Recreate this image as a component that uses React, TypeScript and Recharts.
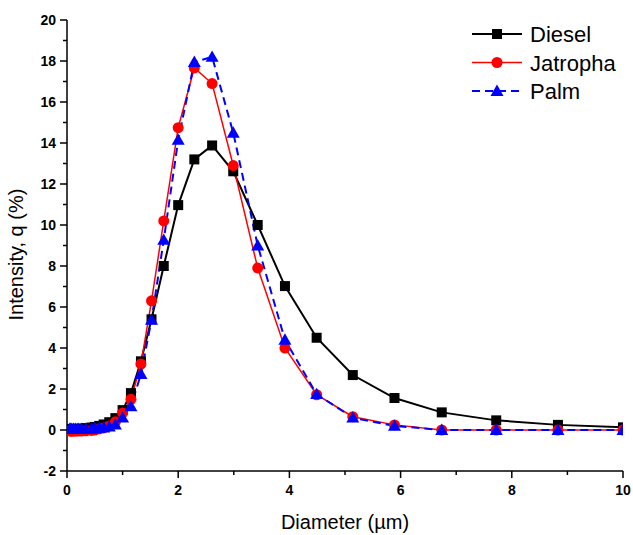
import React from "react";
import { LineChart, Line, XAxis, YAxis, Legend } from "recharts";

const diameters = [0.05, 0.066, 0.087, 0.115, 0.15, 0.2, 0.26, 0.34, 0.44, 0.5, 0.58, 0.66, 0.76, 0.87, 1.0, 1.15, 1.33, 1.52, 1.74, 2.0, 2.29, 2.61, 2.99, 3.43, 3.92, 4.49, 5.14, 5.89, 6.74, 7.72, 8.83, 10.0];
const diesel = [0.05, 0.05, 0.05, 0.05, 0.05, 0.06, 0.07, 0.09, 0.12, 0.15, 0.2, 0.27, 0.38, 0.58, 0.97, 1.8, 3.35, 5.4, 8.0, 10.97, 13.2, 13.88, 12.62, 10.0, 7.02, 4.5, 2.68, 1.56, 0.86, 0.47, 0.25, 0.13];
const jatropha = [-0.05, -0.05, -0.05, -0.05, -0.05, -0.05, -0.05, -0.04, -0.02, 0.0, 0.05, 0.1, 0.2, 0.4, 0.83, 1.5, 3.22, 6.3, 10.2, 14.75, 17.66, 16.9, 12.9, 7.9, 4.0, 1.72, 0.65, 0.25, 0.0, 0.0, 0.0, 0.0];
const palm = [0.05, 0.05, 0.05, 0.05, 0.05, 0.05, 0.05, 0.05, 0.06, 0.08, 0.1, 0.12, 0.16, 0.26, 0.6, 1.15, 2.73, 5.37, 9.27, 14.15, 17.95, 18.2, 14.5, 9.0, 4.4, 1.75, 0.6, 0.2, 0.0, 0.0, 0.0, 0.0];

const xTicks = [0, 1, 2, 3, 4, 5, 6, 7, 8, 9, 10];
const yTicks = [-2, -1, 0, 1, 2, 3, 4, 5, 6, 7, 8, 9, 10, 11, 12, 13, 14, 15, 16, 17, 18, 19, 20];

const seriesNames = ["Diesel", "Jatropha", "Palm"];
const seriesColors = ["#000000", "#ff0000", "#0000ff"];

const data = diameters.map((d, i) => ({ d, diesel: diesel[i], jatropha: jatropha[i], palm: palm[i] }));

const FONT = "Arial, 'Liberation Sans', sans-serif";

const Square = (props: any) => {
  const { cx, cy, fill } = props;
  if (cx == null || cy == null) return null;
  const size = 10;
  return <rect x={cx - size / 2} y={cy - size / 2} width={size} height={size} fill={fill} />;
};
const Circle = (props: any) => {
  const { cx, cy, fill } = props;
  if (cx == null || cy == null) return null;
  return <circle cx={cx} cy={cy} r={5.5} fill={fill} />;
};
const Triangle = (props: any) => {
  const { cx, cy, fill } = props;
  if (cx == null || cy == null) return null;
  const s = 6.5;
  const pts = `${cx},${cy - s} ${cx - s},${cy + s * 0.75} ${cx + s},${cy + s * 0.75}`;
  return <polygon points={pts} fill={fill} />;
};

const XTick = (props: any) => {
  const { x, y, payload } = props;
  const v = payload.value;
  const major = v % 2 === 0;
  return (
    <g>
      <line x1={x} x2={x} y1={y} y2={y + (major ? 7 : 4)} stroke="#000" strokeWidth={1.5} />
      {major && (
        <text x={x} y={y + 24} textAnchor="middle" fontFamily={FONT} fontSize={14} fontWeight="bold" fill="#000">
          {v}
        </text>
      )}
    </g>
  );
};

const YTick = (props: any) => {
  const { x, y, payload } = props;
  const v = payload.value;
  const major = v % 2 === 0;
  return (
    <g>
      <line x1={x} x2={x - (major ? 7 : 4)} y1={y} y2={y} stroke="#000" strokeWidth={1.5} />
      {major && (
        <text x={x - 11} y={y + 5} textAnchor="end" fontFamily={FONT} fontSize={14} fontWeight="bold" fill="#000">
          {v}
        </text>
      )}
    </g>
  );
};

const LegendContent = () => {
  const rows = [0, 1, 2];
  return (
    <svg width={165} height={92}>
      {rows.map((i) => {
        const cy = 14 + i * 28.5;
        return (
          <g key={i}>
            {i < 2 ? (
              <line x1={2} x2={52} y1={cy} y2={cy} stroke={seriesColors[i]} strokeWidth={i === 0 ? 2 : 1.5} />
            ) : (
              <line x1={2} x2={52} y1={cy} y2={cy} stroke={seriesColors[i]} strokeWidth={2} strokeDasharray="8 5" />
            )}
            {i === 0 && <Square cx={27} cy={cy} fill={seriesColors[i]} />}
            {i === 1 && <Circle cx={27} cy={cy} fill={seriesColors[i]} />}
            {i === 2 && <Triangle cx={27} cy={cy} fill={seriesColors[i]} />}
            <text x={60} y={cy + 8} fontFamily={FONT} fontSize={22} fill="#000">
              {seriesNames[i]}
            </text>
          </g>
        );
      })}
    </svg>
  );
};

export default function App() {
  return (
    <div style={{ position: "absolute", left: 0, top: 0, width: 633, height: 535, background: "#fff" }}>
      <LineChart width={633} height={535} data={data} margin={{ top: 20, right: 10, bottom: 24, left: 27 }}>
        <XAxis
          dataKey="d"
          type="number"
          domain={[0, 10]}
          ticks={xTicks}
          interval={0}
          allowDataOverflow
          tickSize={0}
          tickMargin={0}
          tickLine={false}
          tick={<XTick />}
          height={40}
          axisLine={{ stroke: "#000", strokeWidth: 1.5 }}
          label={{ value: "Diameter (\u00b5m)", position: "insideBottom", offset: -18, fontFamily: FONT, fontSize: 20, fill: "#000" }}
        />
        <YAxis
          type="number"
          domain={[-2, 20]}
          ticks={yTicks}
          interval={0}
          allowDataOverflow
          tickSize={0}
          tickMargin={0}
          tickLine={false}
          tick={<YTick />}
          width={40}
          axisLine={{ stroke: "#000", strokeWidth: 1.5 }}
          label={{ value: "Intensity, q (%)", angle: -90, position: "insideLeft", offset: -11, dy: 75, fontFamily: FONT, fontSize: 20, fill: "#000" }}
        />
        <Legend
          verticalAlign="middle"
          align="center"
          layout="vertical"
          wrapperStyle={{ top: 20, left: 470, width: 165, height: 92 }}
          content={<LegendContent />}
        />
        <Line dataKey="diesel" stroke="#000" strokeWidth={2} dot={<Square fill="#000" />} isAnimationActive={false} />
        <Line dataKey="jatropha" stroke="#ff0000" strokeWidth={1.5} dot={<Circle fill="#ff0000" />} isAnimationActive={false} />
        <Line dataKey="palm" stroke="#0000ff" strokeWidth={2} strokeDasharray="8 5" dot={<Triangle fill="#0000ff" />} isAnimationActive={false} />
      </LineChart>
    </div>
  );
}
